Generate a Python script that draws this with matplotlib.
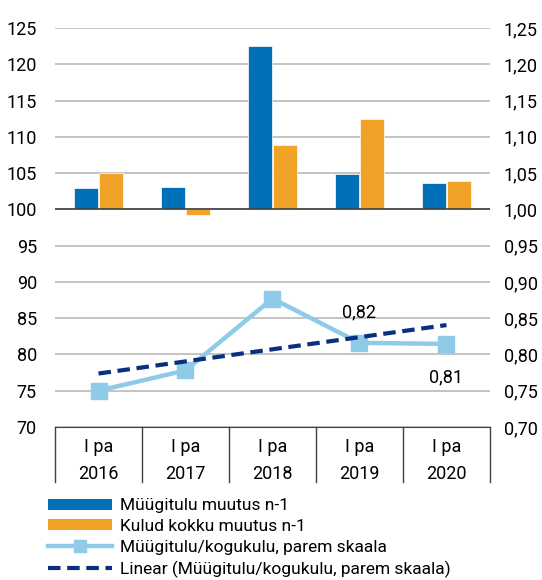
import numpy as np
import matplotlib
matplotlib.use("Agg")
import matplotlib.pyplot as plt
from matplotlib.patches import Patch
from matplotlib.lines import Line2D
import matplotlib.transforms as mtransforms

plt.rcParams['font.family'] = ['Roboto', 'DejaVu Sans']

# data
periods = ['I pa\n2016', 'I pa\n2017', 'I pa\n2018', 'I pa\n2019', 'I pa\n2020']
sales_change = [103.0, 103.1, 122.5, 104.9, 103.6]
cost_change = [105.0, 99.2, 108.9, 112.4, 103.9]
sales_to_cost = [0.750, 0.778, 0.877, 0.816, 0.8145]
left_ticks = [70, 75, 80, 85, 90, 95, 100, 105, 110, 115, 120, 125]
right_ticks = [0.70, 0.75, 0.80, 0.85, 0.90, 0.95, 1.00, 1.05, 1.10, 1.15, 1.20, 1.25]

BLUE = '#0070B8'
ORANGE = '#F0A326'
LIGHT = '#8FCAE9'
NAVY = '#0B2E7E'
GRID = '#BFBFBF'

fig = plt.figure(figsize=(5.42, 5.8), dpi=100)
ax = fig.add_axes([0.1015, 0.2638, 0.8025, 0.688])
ax2 = ax.twinx()

x = np.arange(len(periods))
w = 0.28
base = 100
ax.bar(x - w / 2 - 0.005, np.array(sales_change) - base, w, bottom=base,
       color=BLUE, edgecolor='white', linewidth=0.5, zorder=3)
ax.bar(x + w / 2 + 0.005, np.array(cost_change) - base, w, bottom=base,
       color=ORANGE, edgecolor='white', linewidth=0.5, zorder=3)

ax.set_ylim(70, 125)
ax.set_xlim(-0.5, len(periods) - 0.5)
ax.set_yticks(left_ticks)
ax.set_yticklabels([str(t) for t in left_ticks], fontsize=13)
ax.grid(axis='y', color=GRID, linewidth=1.3, zorder=0)
ax.set_axisbelow(True)
ax.axhline(base, color='#404040', linewidth=1.2, zorder=4)
for s in ['top', 'right', 'left']:
    ax.spines[s].set_visible(False)
ax.spines['bottom'].set_color('#404040')
ax.tick_params(axis='y', length=0, pad=13)
ax.set_xticks(x)
ax.set_xticklabels(periods, fontsize=13, linespacing=1.6)
ax.tick_params(axis='x', length=0, pad=8)

# category separators below the axis
trans = mtransforms.blended_transform_factory(ax.transData, ax.transAxes)
for b in np.arange(-0.5, len(periods), 1.0):
    ax.plot([b, b], [0, -0.138], color='#404040', linewidth=1.0,
            transform=trans, clip_on=False)

# right axis: ratio and its linear trend
ax2.plot(x, sales_to_cost, color=LIGHT, linewidth=3.2, marker='s',
         markersize=11, zorder=5)
coef = np.polyfit(x, sales_to_cost, 1)
ax2.plot(x, np.polyval(coef, x), color=NAVY, linewidth=3, linestyle=(0, (3, 1.6)),
         zorder=6)
ax2.set_ylim(0.70, 1.25)
ax2.set_yticks(right_ticks)
ax2.set_yticklabels([f'{t:.2f}'.replace('.', ',') for t in right_ticks], fontsize=13)
ax2.tick_params(axis='y', length=0, pad=10)
for s in ax2.spines.values():
    s.set_visible(False)

ax2.annotate(f'{sales_to_cost[3]:.2f}'.replace('.', ','), (x[3], sales_to_cost[3]),
             xytext=(0, 18), textcoords='offset points', ha='center', fontsize=13)
ax2.annotate(f'{sales_to_cost[4]:.2f}'.replace('.', ','), (x[4], sales_to_cost[4]),
             xytext=(0, -28), textcoords='offset points', ha='center', fontsize=13)

handles = [
    Patch(facecolor=BLUE, label='Müügitulu muutus n-1'),
    Patch(facecolor=ORANGE, label='Kulud kokku muutus n-1'),
    Line2D([], [], color=LIGHT, linewidth=3.2, marker='s', markersize=9,
           label='Müügitulu/kogukulu, parem skaala'),
    Line2D([], [], color=NAVY, linewidth=3, linestyle=(0, (3, 1.6)),
           label='Linear (Müügitulu/kogukulu, parem skaala)'),
]
fig.legend(handles=handles, loc='upper left', bbox_to_anchor=(0.088, 0.141),
           frameon=False, fontsize=12.5, handlelength=3.7, handleheight=0.6,
           handletextpad=0.45, labelspacing=0.33, borderaxespad=0, borderpad=0)

fig.savefig('out.png', dpi=100)
